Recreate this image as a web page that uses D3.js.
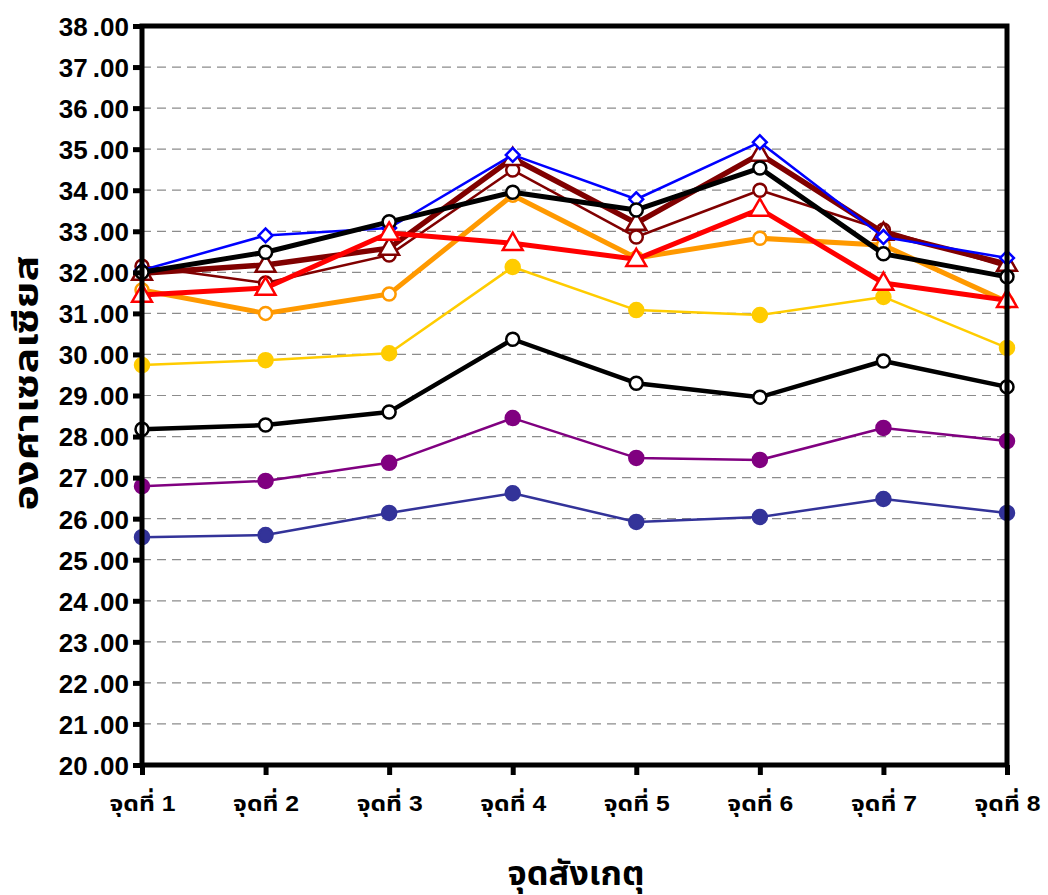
<!DOCTYPE html>
<html>
<head>
<meta charset="utf-8">
<script src="https://cdn.jsdelivr.net/npm/d3@7"></script>
<style>
  html, body { margin: 0; padding: 0; background: #fff; }
  svg { display: block; }
  text { font-family: "Liberation Sans", Arial, "Noto Sans Thai", "Loma", "Garuda", sans-serif; font-weight: bold; fill: #000; }
</style>
</head>
<body>
<svg id="chart" width="1048" height="895"></svg>
<script>
// Observation points along the x axis
const categories = ["จุดที่ 1", "จุดที่ 2", "จุดที่ 3", "จุดที่ 4", "จุดที่ 5", "จุดที่ 6", "จุดที่ 7", "จุดที่ 8"];

// Temperature readings (°C) at each point, one array per series
const navySeries      = [25.55, 25.60, 26.14, 26.62, 25.92, 26.04, 26.48, 26.14];
const purpleSeries    = [26.79, 26.92, 27.36, 28.45, 27.48, 27.43, 28.21, 27.89];
const blackLowSeries  = [28.18, 28.28, 28.60, 30.37, 29.30, 28.96, 29.84, 29.21];
const goldSeries      = [29.74, 29.86, 30.03, 32.13, 31.08, 30.96, 31.40, 30.16];
const orangeSeries    = [31.57, 31.00, 31.47, 33.88, 32.35, 32.83, 32.66, 31.28];
const maroonThinSeries= [32.15, 31.74, 32.42, 34.49, 32.86, 34.00, 33.03, 32.13];
const maroonSeries    = [31.98, 32.18, 32.59, 34.78, 33.20, 34.88, 32.96, 32.20];
const blueSeries      = [32.05, 32.90, 33.08, 34.86, 33.78, 35.17, 32.86, 32.35];
const blackHighSeries = [32.00, 32.49, 33.23, 33.95, 33.52, 34.54, 32.45, 31.89];
const redSeries       = [31.45, 31.62, 32.96, 32.71, 32.32, 33.54, 31.74, 31.32];

// Y axis tick values
const yTicks = d3.range(20, 38.001, 1);

const yTitle = "องศาเซลเซียส";
const xTitle = "จุดสังเกตุ";

// Series styling, in drawing order (bottom to top)
const series = [
  { values: navySeries,       color: "#333399", width: 2.5, marker: "circle",   fill: "#333399", r: 7 },
  { values: purpleSeries,     color: "#800080", width: 2.5, marker: "circle",   fill: "#800080", r: 7 },
  { values: blackLowSeries,   color: "#000000", width: 4.5, marker: "circle",   fill: "#ffffff", r: 6.5 },
  { values: goldSeries,       color: "#ffcc00", width: 2.5, marker: "circle",   fill: "#ffcc00", r: 7 },
  { values: orangeSeries,     color: "#ff9900", width: 5,   marker: "circle",   fill: "#ffffff", r: 6.5 },
  { values: maroonThinSeries, color: "#800000", width: 2.5, marker: "circle",   fill: "#ffffff", r: 6.5 },
  { values: maroonSeries,     color: "#800000", width: 5.5, marker: "triangle", fill: "#ffffff", r: 7 },
  { values: blueSeries,       color: "#0000ff", width: 2.5, marker: "diamond",  fill: "#ffffff", r: 6.5 },
  { values: blackHighSeries,  color: "#000000", width: 5,   marker: "circle",   fill: "#ffffff", r: 6.5 },
  { values: redSeries,        color: "#ff0000", width: 5,   marker: "triangle", fill: "#ffffff", r: 7 }
];

const svg = d3.select("#chart");
const plotLeft = 142, plotRight = 1007, plotTop = 26, plotBottom = 765;

const x = d3.scalePoint().domain(categories).range([plotLeft, plotRight]);
const y = d3.scaleLinear().domain([20, 38]).range([plotBottom, plotTop]);

// Dashed horizontal gridlines
svg.append("g")
  .selectAll("line")
  .data(yTicks.filter(v => v > 20 && v < 38))
  .join("line")
  .attr("x1", plotLeft).attr("x2", plotRight)
  .attr("y1", d => y(d)).attr("y2", d => y(d))
  .attr("stroke", "#8c8c8c")
  .attr("stroke-width", 1.2)
  .attr("stroke-dasharray", "9,6");

// Series lines and markers
const line = d3.line().x((d, i) => x(categories[i])).y(d => y(d));

series.forEach(s => {
  const g = svg.append("g");
  g.append("path")
    .datum(s.values)
    .attr("d", line)
    .attr("fill", "none")
    .attr("stroke", s.color)
    .attr("stroke-width", s.width)
    .attr("stroke-linejoin", "round");
  const pts = g.selectAll(".m").data(s.values).join("g")
    .attr("transform", (d, i) => `translate(${x(categories[i])},${y(d)})`);
  if (s.marker === "circle") {
    pts.append("circle").attr("r", s.r)
      .attr("fill", s.fill).attr("stroke", s.color).attr("stroke-width", 2.5);
  } else if (s.marker === "triangle") {
    pts.append("path")
      .attr("d", d3.symbol(d3.symbolTriangle, 170)())
      .attr("transform", "translate(0,1)")
      .attr("fill", s.fill).attr("stroke", s.color).attr("stroke-width", 2.5);
  } else {
    pts.append("path")
      .attr("d", d3.symbol(d3.symbolSquare, 95)())
      .attr("transform", "rotate(45)")
      .attr("fill", s.fill).attr("stroke", s.color).attr("stroke-width", 2.5);
  }
});

// Plot frame
svg.append("rect")
  .attr("x", plotLeft).attr("y", plotTop)
  .attr("width", plotRight - plotLeft).attr("height", plotBottom - plotTop)
  .attr("fill", "none").attr("stroke", "#000").attr("stroke-width", 5);

// Y axis with thick ticks
const yAxis = d3.axisLeft(y).tickValues(yTicks).tickSize(9).tickPadding(4)
  .tickFormat(d => d3.format(".2f")(d).replace(".", "\u2009."));
const gy = svg.append("g").attr("transform", `translate(${plotLeft},0)`).call(yAxis);
gy.select(".domain").remove();
gy.selectAll(".tick line").attr("stroke", "#000").attr("stroke-width", 5);
gy.selectAll(".tick text").style("font-size", "26px").attr("dy", "0.36em");

// X axis with thick ticks
const xAxis = d3.axisBottom(x).tickSize(10).tickPadding(12);
const gx = svg.append("g").attr("transform", `translate(0,${plotBottom})`).call(xAxis);
gx.select(".domain").remove();
gx.selectAll(".tick line").attr("stroke", "#000").attr("stroke-width", 5);
gx.selectAll(".tick text")
  .style("font-size", "22px")
  .attr("y", 46).attr("dy", 0)
  .attr("textLength", 66).attr("lengthAdjust", "spacingAndGlyphs");

// Axis titles
svg.append("text")
  .attr("transform", `translate(38,383) rotate(-90)`)
  .attr("text-anchor", "middle")
  .style("font-size", "34px")
  .attr("textLength", 255).attr("lengthAdjust", "spacingAndGlyphs")
  .text(yTitle);

svg.append("text")
  .attr("x", 576).attr("y", 885)
  .attr("text-anchor", "middle")
  .style("font-size", "33px")
  .attr("textLength", 137).attr("lengthAdjust", "spacingAndGlyphs")
  .text(xTitle);
</script>
</body>
</html>
